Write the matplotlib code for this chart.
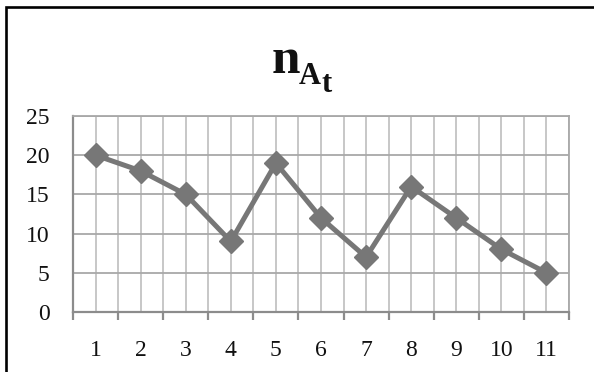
"""Line chart of n_At over 11 steps, Excel-like styling."""

import matplotlib

matplotlib.use("Agg")
import matplotlib.pyplot as plt
from matplotlib.patches import Rectangle
from matplotlib.ticker import FixedLocator, NullFormatter

steps = [1, 2, 3, 4, 5, 6, 7, 8, 9, 10, 11]
values = [20, 18, 15, 9, 19, 12, 7, 16, 12, 8, 5]
y_ticks = [0, 5, 10, 15, 20, 25]

W, H = 594, 372
SERIF = ["Liberation Serif", "DejaVu Serif"]
LINE = "#777777"

fig = plt.figure(figsize=(W / 100, H / 100), dpi=100)
fig.patch.set_facecolor("white")
ax = fig.add_axes([73 / W, 1 - 312 / H, (569 - 73) / W, (312 - 116) / H])

ax.plot(steps, values, color=LINE, lw=3.6, marker="D", ms=12,
        mfc=LINE, mec=LINE, zorder=3, clip_on=False)

ax.set_xlim(0.5, len(steps) + 0.5)
ax.set_ylim(0, 25)
ax.set_yticks(y_ticks)
ax.set_xticks(steps)
ax.xaxis.set_minor_locator(FixedLocator([s - 0.5 for s in steps] + [steps[-1] + 0.5]))
ax.xaxis.set_minor_formatter(NullFormatter())

# vertical grid at centres and boundaries, horizontal at major y ticks
ax.grid(True, which="major", axis="x", color="#bdbdbd", lw=1.2, zorder=1)
ax.grid(True, which="minor", axis="x", color="#bdbdbd", lw=1.2, zorder=1)
ax.grid(True, which="major", axis="y", color="#a8a8a8", lw=1.3, zorder=1)
ax.set_axisbelow(True)

for s in ax.spines.values():
    s.set_color("#a8a8a8")
    s.set_linewidth(1.3)
ax.spines["left"].set_color("#8c8c8c")
ax.spines["bottom"].set_color("#8c8c8c")
ax.spines["left"].set_linewidth(1.6)
ax.spines["bottom"].set_linewidth(1.6)

ax.tick_params(axis="y", length=0, pad=17, labelsize=17, labelcolor="#111111")
ax.tick_params(axis="x", which="major", length=0, pad=20, labelsize=17,
               labelcolor="#111111")
ax.tick_params(axis="x", which="minor", length=6, width=1.6, color="#8c8c8c",
               direction="out")
for lab in ax.get_xticklabels() + ax.get_yticklabels():
    lab.set_family(SERIF)

# title n_{A_t}, built from three pieces
fig.text(272 / W, 1 - 73 / H, "n", family=SERIF, weight="bold", fontsize=37,
         ha="left", va="baseline", color="#111111")
fig.text(299 / W, 1 - 84 / H, "A", family=SERIF, weight="bold", fontsize=22,
         ha="left", va="baseline", color="#111111")
fig.text(321 / W, 1 - 92 / H, "t", family=SERIF, weight="bold", fontsize=22,
         ha="left", va="baseline", color="#111111")

# chart frame (only left and top edges fall inside the image)
fig.patches.append(Rectangle((6 / W, -0.1), 1.2, (H - 7) / H + 0.1,
                             transform=fig.transFigure, fill=False,
                             ec="black", lw=1.9))

fig.savefig("out.png", dpi=100)
